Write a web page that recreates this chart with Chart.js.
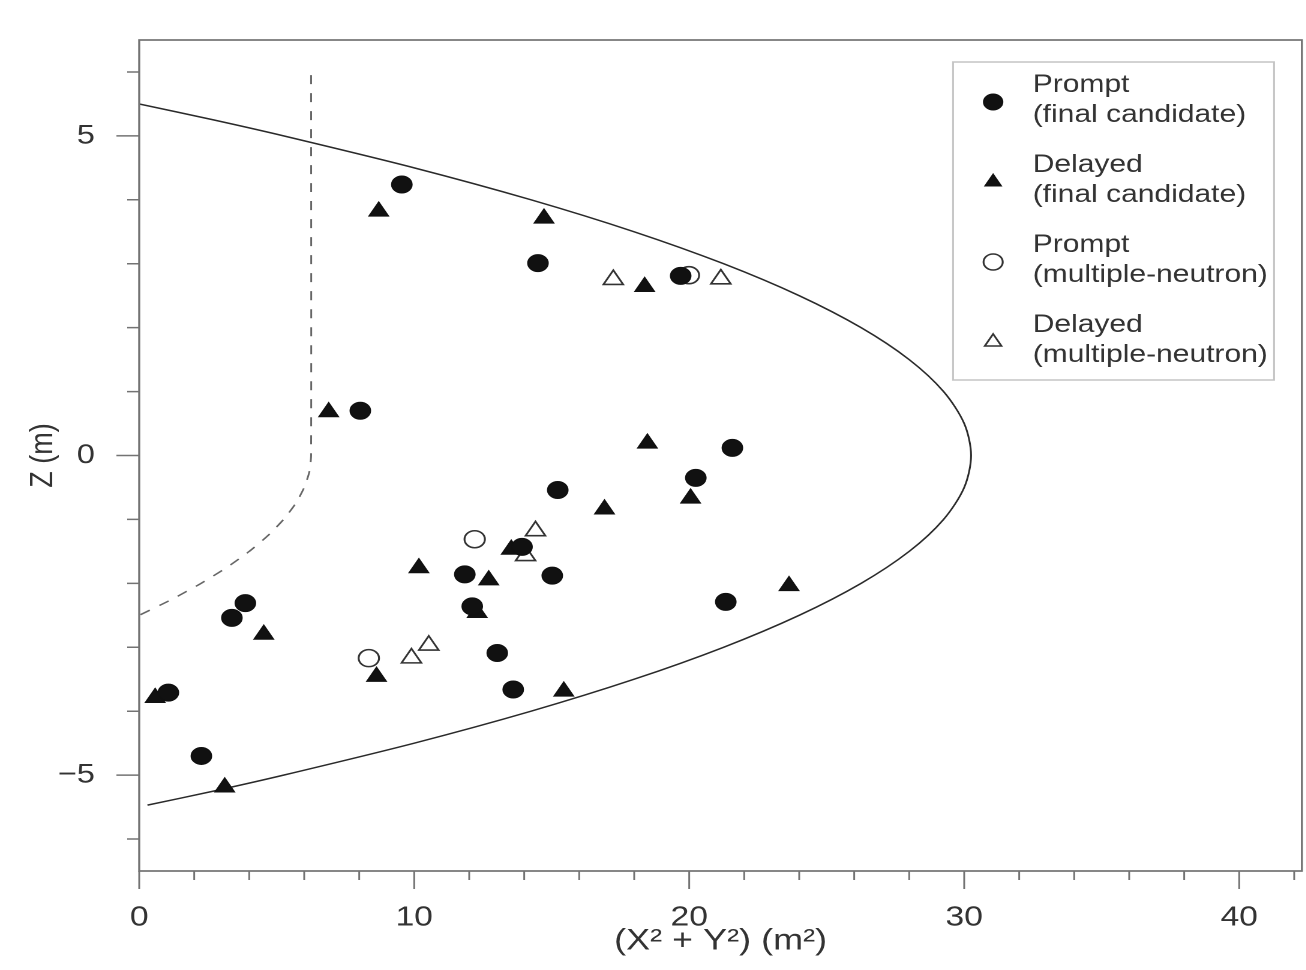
<!DOCTYPE html>
<html>
<head>
<meta charset="utf-8">
<script src="https://cdn.jsdelivr.net/npm/chart.js"></script>
<style>
	html, body { margin: 0; padding: 0; background: #fff; overflow: hidden; }
	/* the original figure is stretched sideways, so the canvas is too */
	#wrap { width: 1096px; height: 970px; transform: scale(1.2, 1); transform-origin: 0 0; }
</style>
</head>
<body>
<div id="wrap"><canvas id="vertexChart" width="1096" height="970"></canvas></div>
<script>
	// event vertices : [X²+Y² (m²), Z (m)]
	var promptFinal = [
		[9.55, 4.24], [14.50, 3.01], [19.69, 2.81], [8.04, 0.70], [21.57, 0.12],
		[20.24, -0.35], [15.22, -0.54], [13.92, -1.43], [11.84, -1.86], [15.02, -1.88],
		[12.11, -2.36], [21.33, -2.29], [13.02, -3.09], [3.86, -2.31], [3.37, -2.54],
		[1.06, -3.71], [2.26, -4.70], [13.60, -3.66]
	];
	var delayedFinal = [
		[8.71, 3.82], [14.72, 3.71], [18.38, 2.64], [6.89, 0.68], [18.48, 0.19],
		[20.05, -0.67], [16.92, -0.84], [10.17, -1.76], [13.53, -1.47], [12.71, -1.95],
		[12.29, -2.46], [23.63, -2.04], [4.53, -2.80], [8.63, -3.46], [15.44, -3.69],
		[0.58, -3.79], [3.11, -5.19]
	];
	var promptMulti = [[19.99, 2.82], [12.20, -1.31], [8.35, -3.17]];
	var delayedMulti = [
		[17.24, 2.75], [21.15, 2.76], [14.41, -1.18], [14.05, -1.57], [10.53, -2.97], [9.90, -3.17]
	];

	// solid boundary
	var boundaryZ = [5.5, 5.25, 5.0, 4.5, 4.0, 3.5, 3.0, 2.5, 2.0, 1.5, 1.0, 0.5, 0,
		-0.5, -1.0, -1.5, -2.0, -2.5, -3.0, -3.5, -4.0, -4.5, -5.0, -5.25, -5.47];
	var boundaryX = [0, 2.7, 5.25, 10.0, 14.25, 18.0, 21.25, 24.0, 26.25, 28.0, 29.25, 30.0, 30.25,
		30.0, 29.25, 28.0, 26.25, 24.0, 21.25, 18.0, 14.25, 10.0, 5.25, 2.7, 0.3];

	// dashed cut line
	var cutZ = [5.95, 0, -0.25, -0.5, -0.75, -1.0, -1.25, -1.5, -1.75, -2.0, -2.25, -2.5];
	var cutX = [6.25, 6.25, 6.19, 6.0, 5.69, 5.25, 4.69, 4.0, 3.19, 2.25, 1.19, 0];

	var xMajorTicks = [0, 10, 20, 30, 40];
	var xMinorTicks = [2, 4, 6, 8, 12, 14, 16, 18, 22, 24, 26, 28, 32, 34, 36, 38, 42];
	var yMajorTicks = [-5, 0, 5];
	var yMinorTicks = [-6, -4, -3, -2, -1, 1, 2, 3, 4, 6];

	var legendLines = [
		["Prompt", "(final candidate)"],
		["Delayed", "(final candidate)"],
		["Prompt", "(multiple-neutron)"],
		["Delayed", "(multiple-neutron)"]
	];

	var FONT = '"Liberation Sans", Arial, Helvetica, sans-serif';
	var TEXT_COLOR = "#333";
	var AXIS_COLOR = "#737373";

	function toPoints(arr) {
		return arr.map(function(p) { return { x: p[0], y: p[1] }; });
	} // toPoints

	function zipPoints(xs, zs) {
		let pts = [];
		for (let i = 0; i < xs.length; i++) {
			pts.push({ x: xs[i], y: zs[i] });
		} // end for
		return pts;
	} // zipPoints

	function markerSet(label, arr, style, radius, filled) {
		return {
			label: label,
			data: toPoints(arr),
			showLine: false,
			pointStyle: style,
			pointRadius: radius,
			pointHoverRadius: radius,
			pointBackgroundColor: filled ? "#111" : "#fff",
			pointBorderColor: filled ? "#111" : "#333",
			pointBorderWidth: filled ? 1 : 1.6
		};
	} // markerSet

	function drawMarker(ctx, ds, x, y, r) {
		ctx.fillStyle = ds.pointBackgroundColor;
		ctx.strokeStyle = ds.pointBorderColor;
		ctx.lineWidth = ds.pointBorderWidth;
		if (Chart.helpers && Chart.helpers.drawPoint) {
			Chart.helpers.drawPoint(ctx, { pointStyle: ds.pointStyle, radius: r, rotation: 0, borderWidth: ds.pointBorderWidth }, x, y);
			return;
		} // end if
		ctx.beginPath();
		if (ds.pointStyle === "circle") {
			ctx.arc(x, y, r, 0, Math.PI * 2);
		} else {
			ctx.moveTo(x, y - r);
			ctx.lineTo(x + r * 0.866, y + r / 2);
			ctx.lineTo(x - r * 0.866, y + r / 2);
			ctx.closePath();
		} // end else
		ctx.fill();
		ctx.stroke();
	} // drawMarker

	// box round the plot and the tick marks
	var framePlugin = {
		id: "frame",
		afterDatasetsDraw: function(chart) {
			var ctx = chart.ctx;
			var a = chart.chartArea;
			var xs = chart.scales.x;
			var ys = chart.scales.y;
			ctx.save();
			ctx.strokeStyle = AXIS_COLOR;
			ctx.lineWidth = 1.7;
			ctx.strokeRect(a.left, a.top, a.right - a.left, a.bottom - a.top);
			ctx.lineWidth = 1.5;
			ctx.beginPath();
			xMajorTicks.forEach(function(v) {
				var px = xs.getPixelForValue(v);
				ctx.moveTo(px, a.bottom);
				ctx.lineTo(px, a.bottom + 18);
			});
			xMinorTicks.forEach(function(v) {
				var px = xs.getPixelForValue(v);
				ctx.moveTo(px, a.bottom);
				ctx.lineTo(px, a.bottom + 9);
			});
			yMajorTicks.forEach(function(v) {
				var py = ys.getPixelForValue(v);
				ctx.moveTo(a.left, py);
				ctx.lineTo(a.left - 19, py);
			});
			yMinorTicks.forEach(function(v) {
				var py = ys.getPixelForValue(v);
				ctx.moveTo(a.left, py);
				ctx.lineTo(a.left - 10, py);
			});
			ctx.stroke();
			ctx.restore();
		} // afterDatasetsDraw
	}; // framePlugin

	// legend box with two-line labels
	var legendPlugin = {
		id: "boxLegend",
		afterDraw: function(chart) {
			var ctx = chart.ctx;
			var a = chart.chartArea;
			var left = a.right - 290.7;
			var top = a.top + 22;
			ctx.save();
			ctx.fillStyle = "#fff";
			ctx.fillRect(left, top, 267.5, 318);
			ctx.strokeStyle = "#c4c4c4";
			ctx.lineWidth = 1.5;
			ctx.strokeRect(left, top, 267.5, 318);
			for (let i = 0; i < legendLines.length; i++) {
				let ds = chart.data.datasets[i];
				let y0 = top + 23 + i * 80;
				drawMarker(ctx, ds, left + 33.4, y0 + 17, 8);
				ctx.fillStyle = TEXT_COLOR;
				ctx.font = "25px " + FONT;
				ctx.textAlign = "left";
				ctx.textBaseline = "middle";
				ctx.fillText(legendLines[i][0], left + 66.4, y0);
				ctx.fillText(legendLines[i][1], left + 66.4, y0 + 30);
			} // end for
			ctx.restore();
		} // afterDraw
	}; // legendPlugin

	var chart = new Chart(document.getElementById("vertexChart"), {
		type: "scatter",
		data: {
			datasets: [
				markerSet("Prompt (final candidate)", promptFinal, "circle", 8.5, true),
				markerSet("Delayed (final candidate)", delayedFinal, "triangle", 9.5, true),
				markerSet("Prompt (multiple-neutron)", promptMulti, "circle", 8.5, false),
				markerSet("Delayed (multiple-neutron)", delayedMulti, "triangle", 9.5, false),
				{
					label: "boundary",
					data: zipPoints(boundaryX, boundaryZ),
					showLine: true,
					pointRadius: 0,
					borderColor: "#2a2a2a",
					borderWidth: 1.5,
					tension: 0.3,
					fill: false
				},
				{
					label: "cut",
					data: zipPoints(cutX, cutZ),
					showLine: true,
					pointRadius: 0,
					borderColor: "#666",
					borderWidth: 1.5,
					borderDash: [9, 9],
					tension: 0.2,
					fill: false
				}
			]
		},
		options: {
			responsive: false,
			animation: false,
			devicePixelRatio: 2,
			layout: { padding: { top: 40, right: 4, left: 0, bottom: 0 } },
			events: [],
			plugins: {
				legend: { display: false },
				tooltip: { enabled: false }
			},
			scales: {
				x: {
					type: "linear",
					min: 0,
					max: 42.28,
					grid: { display: false, drawTicks: false },
					border: { display: false },
					afterBuildTicks: function(scale) {
						scale.ticks = xMajorTicks.map(function(v) { return { value: v }; });
					},
					afterFit: function(scale) {
						scale.height = 99;
						scale.paddingLeft = 0;
						scale.paddingRight = 0;
					},
					ticks: {
						padding: 30,
						autoSkip: false,
						maxRotation: 0,
						color: TEXT_COLOR,
						font: { family: FONT, size: 28 }
					},
					title: {
						display: true,
						text: "(X\u00b2 + Y\u00b2) (m\u00b2)",
						color: TEXT_COLOR,
						font: { family: FONT, size: 30 },
						padding: { top: 0, bottom: 11 }
					}
				},
				y: {
					type: "linear",
					min: -6.5,
					max: 6.5,
					grid: { display: false, drawTicks: false },
					border: { display: false },
					afterBuildTicks: function(scale) {
						scale.ticks = yMajorTicks.map(function(v) { return { value: v }; });
					},
					afterFit: function(scale) {
						scale.width = 116;
						scale.paddingTop = 0;
						scale.paddingBottom = 0;
					},
					ticks: {
						padding: 37,
						color: TEXT_COLOR,
						font: { family: FONT, size: 27 },
						callback: function(v) {
							return v < 0 ? "\u2212" + Math.abs(v) : String(v);
						}
					},
					title: {
						display: true,
						text: "Z (m)",
						color: TEXT_COLOR,
						font: { family: FONT, size: 27 },
						padding: { top: 20, bottom: 0 }
					}
				}
			}
		},
		plugins: [framePlugin, legendPlugin]
	}); // end chart
</script>
</body>
</html>
